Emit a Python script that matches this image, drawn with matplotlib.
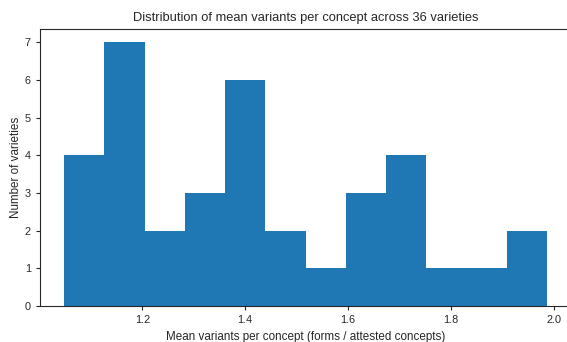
import matplotlib
matplotlib.use("Agg")
import matplotlib.pyplot as plt
import numpy as np

plt.rcParams['font.family'] = ['Liberation Sans', 'DejaVu Sans']

# histogram
counts = [4, 7, 2, 3, 6, 2, 1, 3, 4, 1, 1, 2]
lo, hi = 1.048, 1.987
edges = np.linspace(lo, hi, len(counts) + 1)
centers = (edges[:-1] + edges[1:]) / 2

fig = plt.figure(figsize=(5.67, 3.42), dpi=100)
ax = fig.add_axes([40 / 567, 1 - 306 / 342, 531 / 567, 277 / 342])

ax.hist(centers, bins=edges, weights=counts, histtype='stepfilled',
        color='#1f77b4', linewidth=0)

ax.set_xticks([1.2, 1.4, 1.6, 1.8, 2.0])
ax.set_yticks(range(8))
ax.tick_params(labelsize=7.8, colors='#262626', length=3, width=0.8)
for s in ax.spines.values():
    s.set_color('#262626')
    s.set_linewidth(0.8)

ax.set_title('Distribution of mean variants per concept across 36 varieties',
             fontsize=9.3, color='#262626')
ax.set_xlabel('Mean variants per concept (forms / attested concepts)',
              fontsize=8.4, color='#262626')
ax.set_ylabel('Number of varieties', fontsize=8.4, color='#262626', labelpad=2)

fig.savefig('out.png', dpi=100)
